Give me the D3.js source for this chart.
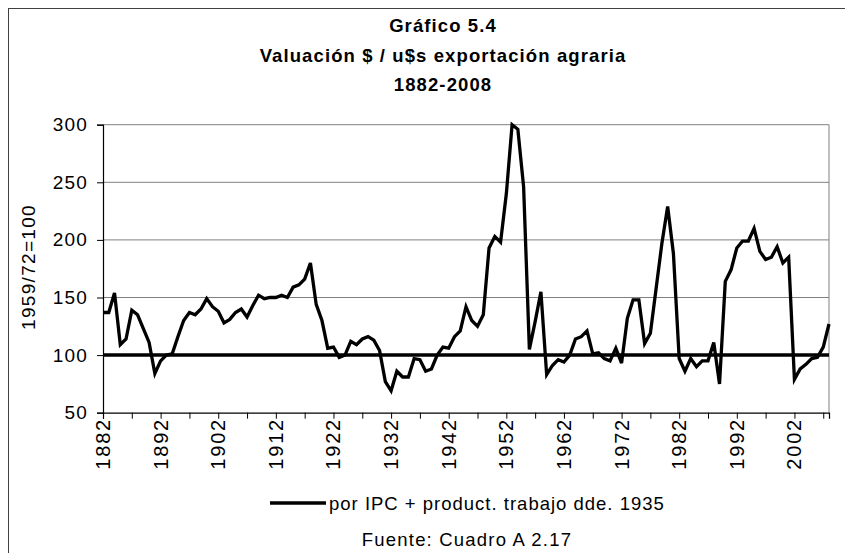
<!DOCTYPE html>
<html>
<head>
<meta charset="utf-8">
<script src="https://cdn.jsdelivr.net/npm/d3@7"></script>
<style>
    body { margin: 0; background: #fff; }
    text { font-family: "Liberation Sans", Arial, sans-serif; fill: #000; }
</style>
</head>
<body>
<div id="chart"></div>
<script>
// categories (years) and the index series
const years = [
    1882, 1883, 1884, 1885, 1886, 1887, 1888, 1889, 1890, 1891,
    1892, 1893, 1894, 1895, 1896, 1897, 1898, 1899, 1900, 1901,
    1902, 1903, 1904, 1905, 1906, 1907, 1908, 1909, 1910, 1911,
    1912, 1913, 1914, 1915, 1916, 1917, 1918, 1919, 1920, 1921,
    1922, 1923, 1924, 1925, 1926, 1927, 1928, 1929, 1930, 1931,
    1932, 1933, 1934, 1935, 1936, 1937, 1938, 1939, 1940, 1941,
    1942, 1943, 1944, 1945, 1946, 1947, 1948, 1949, 1950, 1951,
    1952, 1953, 1954, 1955, 1956, 1957, 1958, 1959, 1960, 1961,
    1962, 1963, 1964, 1965, 1966, 1967, 1968, 1969, 1970, 1971,
    1972, 1973, 1974, 1975, 1976, 1977, 1978, 1979, 1980, 1981,
    1982, 1983, 1984, 1985, 1986, 1987, 1988, 1989, 1990, 1991,
    1992, 1993, 1994, 1995, 1996, 1997, 1998, 1999, 2000, 2001,
    2002, 2003, 2004, 2005, 2006, 2007, 2008
];

const valuacion = [
    137, 137, 154, 109, 114, 139, 135, 123, 111, 84,
    95, 100, 101, 116, 130, 137, 135, 140, 149, 142,
    138, 128, 131, 137, 140, 133, 143, 152, 149, 150,
    150, 152, 150, 159, 161, 166, 180, 144, 130, 106,
    107, 98, 100, 112, 109, 114, 116, 113, 104, 77,
    69, 86, 81, 81, 97, 96, 86, 88, 100, 107,
    106, 116, 121, 142, 130, 125, 135, 193, 203, 198,
    240, 300, 296, 246, 105, 129, 155, 83, 91, 96,
    94, 100, 114, 116, 121, 101, 102, 97, 95, 106,
    93, 132, 148, 148, 110, 119, 158, 197, 229, 188,
    97, 86, 97, 90, 95, 95, 111, 75, 164, 174,
    193, 199, 199, 210, 190, 183, 185, 194, 180, 185,
    79, 88, 92, 97, 98, 107, 127
];

const baseline = 100;
const yTicks = [50, 100, 150, 200, 250, 300];
const xLabelYears = [1882, 1892, 1902, 1912, 1922, 1932, 1942, 1952, 1962, 1972, 1982, 1992, 2002];
const xTickYears = [1882, 1887, 1892, 1897, 1902, 1907, 1912, 1917, 1922, 1927, 1932, 1937,
    1942, 1947, 1952, 1957, 1962, 1967, 1972, 1977, 1982, 1987, 1992, 1997, 2002, 2007];

const titleLines = ["Gráfico 5.4", "Valuación $ / u$s exportación agraria", "1882-2008"];
const seriesName = "por IPC + product. trabajo dde. 1935";
const source = "Fuente: Cuadro A 2.17";
const yLabel = "1959/72=100";

const data = years.map((yr, i) => ({ year: yr, value: valuacion[i] }));

const width = 845, height = 553;
const plotLeft = 103, plotRight = 829, plotTop = 124.7, plotBottom = 412.7;

const svg = d3.select("#chart").append("svg")
    .attr("width", width)
    .attr("height", height);

// outer chart frame (cropped at right and bottom)
svg.append("rect")
    .attr("x", 8.5)
    .attr("y", 8.5)
    .attr("width", 900)
    .attr("height", 600)
    .attr("fill", "none")
    .attr("stroke", "#404040")
    .attr("stroke-width", 1);

const x = d3.scaleLinear()
    .domain([1882, 2008])
    .range([plotLeft, plotRight]);

const y = d3.scaleLinear()
    .domain([50, 300])
    .range([plotBottom, plotTop]);

// gridlines
svg.append("g")
    .selectAll("line")
    .data(yTicks.filter(d => d > 50))
    .enter().append("line")
    .attr("x1", plotLeft)
    .attr("x2", plotRight)
    .attr("y1", d => y(d))
    .attr("y2", d => y(d))
    .attr("stroke", "#808080")
    .attr("stroke-width", 1);

// right side of plot area
svg.append("line")
    .attr("x1", plotRight)
    .attr("x2", plotRight)
    .attr("y1", plotTop)
    .attr("y2", plotBottom)
    .attr("stroke", "#808080");

// y axis
const yAxis = svg.append("g")
    .attr("transform", `translate(${plotLeft}, 0)`)
    .call(d3.axisLeft(y).tickValues(yTicks).tickSize(6).tickPadding(9));
yAxis.select(".domain").attr("stroke", "#000").attr("stroke-width", 1.2);
yAxis.selectAll(".tick line").attr("stroke", "#000");
yAxis.selectAll(".tick text")
    .style("font-family", "Liberation Sans, Arial, sans-serif")
    .style("font-size", "19px")
    .style("letter-spacing", "1.2px");

// x axis
const xAxis = svg.append("g")
    .attr("transform", `translate(0, ${plotBottom})`)
    .call(d3.axisBottom(x).tickValues(xTickYears).tickSize(6).tickFormat(""));
xAxis.select(".domain").attr("stroke", "#000").attr("stroke-width", 1.2);
xAxis.selectAll(".tick line").attr("stroke", "#000");

svg.append("g")
    .selectAll("text")
    .data(xLabelYears)
    .enter().append("text")
    .attr("transform", d => `translate(${x(d) + 7}, 418) rotate(-90)`)
    .attr("text-anchor", "end")
    .style("font-size", "20px")
    .style("letter-spacing", "1.8px")
    .text(d => d);

// y label
svg.append("text")
    .attr("transform", "rotate(-90)")
    .attr("x", -267)
    .attr("y", 35)
    .attr("text-anchor", "middle")
    .style("font-size", "19px")
    .style("letter-spacing", "1.3px")
    .text(yLabel);

// 100 reference line
svg.append("line")
    .attr("x1", x(years[0]))
    .attr("x2", x(years[years.length - 1]))
    .attr("y1", y(baseline))
    .attr("y2", y(baseline))
    .attr("stroke", "#000")
    .attr("stroke-width", 3.5);

// series
const line = d3.line()
    .x(d => x(d.year))
    .y(d => y(d.value));

svg.append("path")
    .datum(data)
    .attr("fill", "none")
    .attr("stroke", "#000")
    .attr("stroke-width", 3.3)
    .attr("stroke-linejoin", "miter")
    .attr("d", line);

// title
svg.append("g")
    .selectAll("text")
    .data(titleLines)
    .enter().append("text")
    .attr("x", 443)
    .attr("y", (d, i) => 32 + i * 29.5)
    .attr("text-anchor", "middle")
    .style("font-size", "18.5px")
    .style("font-weight", "bold")
    .style("letter-spacing", "1.1px")
    .text(d => d);

// legend
svg.append("line")
    .attr("x1", 270)
    .attr("x2", 326)
    .attr("y1", 503)
    .attr("y2", 503)
    .attr("stroke", "#000")
    .attr("stroke-width", 3.5);

svg.append("text")
    .attr("x", 329)
    .attr("y", 509.5)
    .style("font-size", "18.5px")
    .style("letter-spacing", "1px")
    .text(seriesName);

svg.append("text")
    .attr("x", 467)
    .attr("y", 546)
    .attr("text-anchor", "middle")
    .style("font-size", "18.5px")
    .style("letter-spacing", "1.2px")
    .text(source);
</script>
</body>
</html>
